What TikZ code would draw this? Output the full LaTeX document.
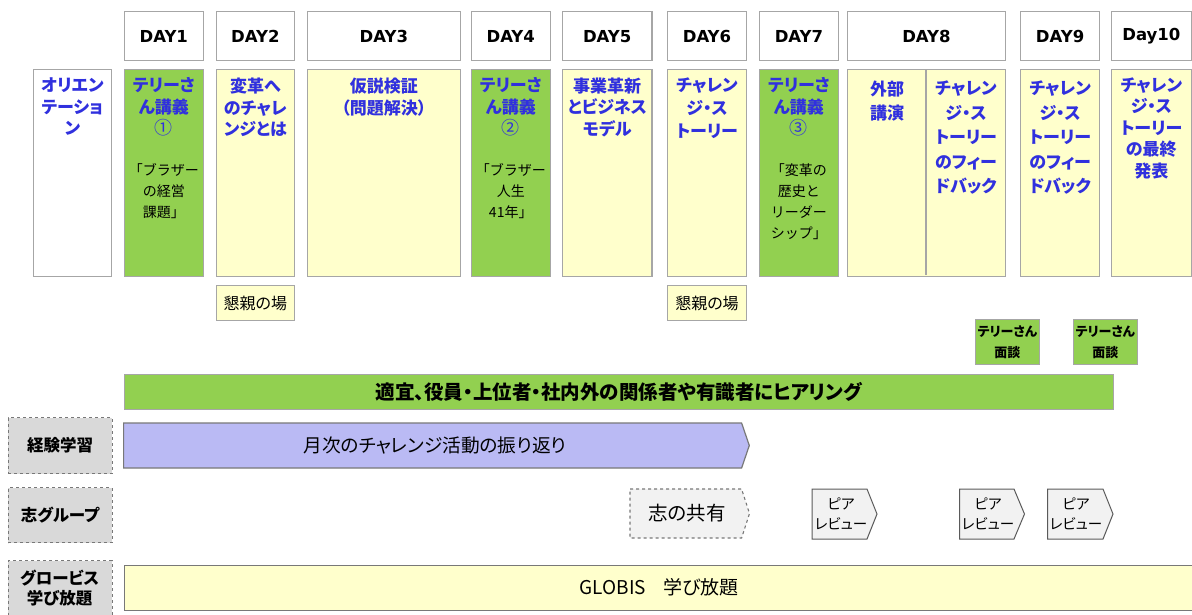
\documentclass[tikz,border=0pt]{standalone}
\usepackage{fontspec}
\setmainfont{Noto Sans CJK JP}[RawFeature={+palt}]
\newfontfamily\cjkfull{Noto Sans CJK JP}
\newfontfamily\dayfont{DejaVu Sans}
\usetikzlibrary{calc}
\definecolor{tblue}{RGB}{48,48,222}
\definecolor{tgreen}{RGB}{146,208,80}
\definecolor{tyellow}{RGB}{255,255,204}
\definecolor{tpurple}{RGB}{186,186,244}
\definecolor{tgray}{RGB}{217,217,217}
\definecolor{tlgray}{RGB}{242,242,242}
\definecolor{tborder}{RGB}{166,166,166}
\definecolor{tdark}{RGB}{120,120,120}
\definecolor{tdarker}{RGB}{90,90,90}
\begin{document}
\begin{tikzpicture}[x=1pt,y=-1pt,
  daybox/.style={draw=tborder, line width=1.2pt, fill=white, anchor=north west, inner sep=0pt, minimum height=49pt, font=\dayfont\bfseries\fontsize{16.5}{20}\selectfont},
  sbox/.style={draw=tborder, line width=1.2pt, anchor=north west, inner sep=0pt, minimum height=207pt},
  ttl/.style={anchor=north, inner sep=0pt, align=center, text=tblue, font=\bfseries\fontsize{17}{21.5}\selectfont},
  sub/.style={anchor=north, inner sep=0pt, align=center, font=\cjkfull\fontsize{14}{21}\selectfont},
  smallbox/.style={draw=tborder, line width=1.2pt, anchor=north west, inner sep=0pt, align=center},
  rowlab/.style={draw=tdark, dashed, line width=1.2pt, fill=tgray, anchor=north west, inner sep=0pt, minimum width=104pt, align=center, font=\bfseries\fontsize{16.5}{20}\selectfont},
  chev/.style={fill=tlgray, draw=tdarker, line width=1pt},
  lbl/.style={inner sep=0pt, align=center},
]
\useasboundingbox (0,0) rectangle (1192,614);

% header row
\node[daybox, minimum width=79.2pt] (h1) at (123.6,11) {DAY1};
\node[daybox, minimum width=78.5pt] (h2) at (215.5,11) {DAY2};
\node[daybox, minimum width=152.6pt] (h3) at (307,11) {DAY3};
\node[daybox, minimum width=78.9pt] (h4) at (470.7,11) {DAY4};
\node[daybox, minimum width=89.6pt] (h5) at (561.8,11) {DAY5};
\node[daybox, minimum width=79.2pt] (h6) at (666.8,11) {DAY6};
\node[daybox, minimum width=78.6pt] (h7) at (759,11) {DAY7};
\node[daybox, minimum width=157.6pt] (h8) at (847,11) {DAY8};
\node[daybox, minimum width=79pt] (h9) at (1020,11) {DAY9};
\node[daybox, minimum width=79.5pt] (h10) at (1111,11) {Day10};

% session boxes
\node[sbox, fill=white, minimum width=78.5pt] (s0) at (32.5,69) {};
\node[sbox, fill=tgreen, minimum width=79.2pt] (s1) at (123.6,69) {};
\node[sbox, fill=tyellow, minimum width=78.5pt] (s2) at (215.5,69) {};
\node[sbox, fill=tyellow, minimum width=152.6pt] (s3) at (307,69) {};
\node[sbox, fill=tgreen, minimum width=78.9pt] (s4) at (470.7,69) {};
\node[sbox, fill=tyellow, minimum width=89.6pt] (s5) at (561.8,69) {};
\node[sbox, fill=tyellow, minimum width=79.2pt] (s6) at (666.8,69) {};
\node[sbox, fill=tgreen, minimum width=78.6pt] (s7) at (759,69) {};
\node[sbox, fill=tyellow, minimum width=157.6pt] (s8) at (847,69) {};
\node[sbox, fill=tyellow, minimum width=79pt] (s9) at (1020,69) {};
\node[sbox, fill=tyellow, minimum width=79.5pt] (s10) at (1111,69) {};
\coordinate (s8mt) at (926,69.6);
\coordinate (s8mb) at (926,275.4);
\draw[draw=tborder, line width=1.2pt] (s8mt) -- (s8mb);

% session titles
\node[ttl] (t0) at ($(s0.north)+(0,8.5)$) {オリエン\\テーショ\\ン};
\node[ttl] (t1) at ($(s1.north)+(0,8.5)$) {テリーさ\\ん講義\\{\mdseries\fontsize{18}{21.5}\selectfont ①}};
\node[sub] (u1) at ($(s1.north)+(0,94)$) {「ブラザー\\の経営\\課題」};
\node[ttl] (t2) at ($(s2.north)+(0,9)$) {変革へ\\のチャレ\\ンジとは};
\node[ttl] (t3) at ($(s3.north)+(0,9)$) {仮説検証\\（問題解決）};
\node[ttl] (t4) at ($(s4.north)+(0,8.5)$) {テリーさ\\ん講義\\{\mdseries\fontsize{18}{21.5}\selectfont ②}};
\node[sub] (u4) at ($(s4.north)+(0,94)$) {「ブラザー\\人生\\41年」};
\node[ttl] (t5) at ($(s5.north)+(0,8.5)$) {事業革新\\とビジネス\\モデル};
\node[ttl, font=\bfseries\fontsize{17}{23}\selectfont] (t6) at ($(s6.north)+(0,9)$) {チャレン\\ジ・ス\\トーリー};
\node[ttl] (t7) at ($(s7.north)+(0,8.5)$) {テリーさ\\ん講義\\{\mdseries\fontsize{18}{21.5}\selectfont ③}};
\node[sub] (u7) at ($(s7.north)+(0,94)$) {「変革の\\歴史と\\リーダー\\シップ」};
\node[ttl, font=\bfseries\fontsize{17}{24.5}\selectfont] (t8a) at (887,80.5) {外部\\講演};
\node[ttl, font=\bfseries\fontsize{17}{24.5}\selectfont] (t8b) at (966,81) {チャレン\\ジ・ス\\トーリー\\のフィー\\ドバック};
\node[ttl, font=\bfseries\fontsize{17}{24.5}\selectfont] (t9) at ($(s9.north)+(0,12)$) {チャレン\\ジ・ス\\トーリー\\のフィー\\ドバック};
\node[ttl] (t10) at ($(s10.north)+(0,8.5)$) {チャレン\\ジ・ス\\トーリー\\の最終\\発表};

% small boxes
\node[smallbox, fill=tyellow, minimum width=78.5pt, minimum height=35pt, font=\fontsize{16}{18}\selectfont] (k2) at (215.5,285) {懇親の場};
\node[smallbox, fill=tyellow, minimum width=79.2pt, minimum height=35pt, font=\fontsize{16}{18}\selectfont] (k6) at (666.8,285) {懇親の場};
\node[smallbox, fill=tgreen, minimum width=64.4pt, minimum height=45pt, font=\bfseries\fontsize{13}{21}\selectfont] (m1) at (974.6,319) {テリーさん\\面談};
\node[smallbox, fill=tgreen, minimum width=64.5pt, minimum height=45pt, font=\bfseries\fontsize{13}{21}\selectfont] (m2) at (1072.5,319) {テリーさん\\面談};

% hearing bar
\node[smallbox, fill=tgreen, minimum width=989.2pt, minimum height=35pt, font=\bfseries\fontsize{19.5}{22}\selectfont] (hear) at (123.6,374) {適宜、役員・上位者・社内外の関係者や有識者にヒアリング};

% row labels
\node[rowlab, minimum height=56pt] (r1) at (7.6,417) {経験学習};
\node[rowlab, minimum height=55pt] (r2) at (7.6,487) {志グループ};
\node[rowlab, minimum height=58pt] (r3) at (7.6,560) {};
\node[lbl, font=\bfseries\fontsize{16.5}{20}\selectfont] (r3t) at (59.6,588) {グロービス\\学び放題};

% monthly reflection arrow
\draw[fill=tpurple, draw=tdark, line width=1.2pt] (123.6,423) -- (741.6,423) -- (749.3,445.5) -- (741.6,468) -- (123.6,468) -- cycle;
\node[lbl, font=\fontsize{18.7}{22}\selectfont] (ref) at (435,445.5) {月次のチャレンジ活動の振り返り};

% shared aspirations
\draw[fill=tlgray, draw=tdark, dashed, line width=1.1pt] (630,489) -- (741.6,489) -- (749.5,513.5) -- (741.6,538) -- (630,538) -- cycle;
\node[lbl, font=\fontsize{19.5}{22}\selectfont] (kokoro) at (687,513.5) {志の共有};

% peer reviews
\draw[chev] (812,489) -- (867,489) -- (877,514) -- (867,539) -- (812,539) -- cycle;
\node[lbl, font=\fontsize{14.5}{20.5}\selectfont] (p1) at (841,514) {ピア\\レビュー};
\draw[chev] (959.7,489) -- (1014,489) -- (1024.5,514) -- (1014,539) -- (959.7,539) -- cycle;
\node[lbl, font=\fontsize{14.5}{20.5}\selectfont] (p2) at (988,514) {ピア\\レビュー};
\draw[chev] (1047.6,489) -- (1103,489) -- (1113,514) -- (1103,539) -- (1047.6,539) -- cycle;
\node[lbl, font=\fontsize{14.5}{20.5}\selectfont] (p3) at (1076,514) {ピア\\レビュー};

% GLOBIS bar
\node[draw=tdark, line width=1.2pt, fill=tyellow, anchor=north west, inner sep=0pt, minimum width=1075pt, minimum height=45pt] (gb) at (123.6,565) {};
\node[lbl, font=\fontsize{19}{22}\selectfont] (gbt) at (659,587.5) {GLOBIS\hspace{0.9em}学び放題};
\end{tikzpicture}
\end{document}
